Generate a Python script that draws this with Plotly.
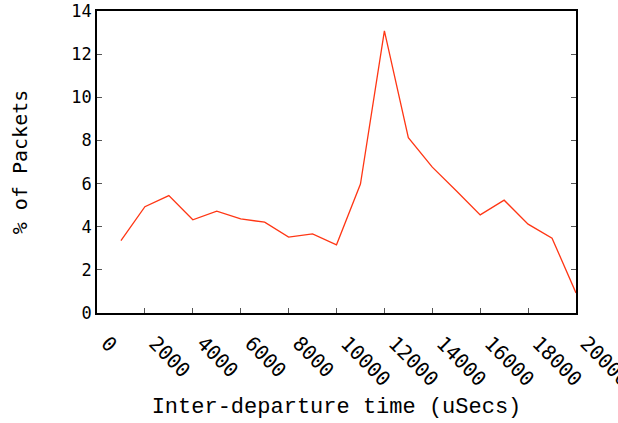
import plotly.graph_objects as go

# Inter-departure time histogram (percentage of packets per 1000 us bin)
bin_us = [1000, 2000, 3000, 4000, 5000, 6000, 7000, 8000, 9000, 10000,
          11000, 12000, 13000, 14000, 15000, 16000, 17000, 18000, 19000, 20000]
pct_packets = [3.36, 4.93, 5.44, 4.32, 4.72, 4.36, 4.21, 3.52, 3.67, 3.16,
               5.98, 13.08, 8.13, 6.76, 5.67, 4.55, 5.23, 4.12, 3.47, 0.93]
x_ticks = [0, 2000, 4000, 6000, 8000, 10000, 12000, 14000, 16000, 18000, 20000]
y_ticks = [0, 2, 4, 6, 8, 10, 12, 14]

fig = go.Figure(go.Scatter(
    x=bin_us, y=pct_packets, mode="lines",
    line=dict(color="#ff3614", width=1.3),
    hoverinfo="skip",
))

fig.update_layout(
    width=618, height=423,
    margin=dict(l=97, r=42, t=11, b=110),
    paper_bgcolor="white", plot_bgcolor="white",
    showlegend=False,
)

fig.update_xaxes(
    range=[0, 20000], tickvals=x_ticks, ticktext=[str(v) for v in x_ticks],
    tickangle=45, ticks="inside", ticklen=5, tickcolor="#555555",
    showline=True, linecolor="black", linewidth=1.5, mirror=True,
    showgrid=False, zeroline=False, automargin=False,
    tickfont=dict(family="DejaVu Sans Mono", size=20, color="black"),
    ticklabelshift=10, ticklabelstandoff=9, ticklabeloverflow="allow",
    title=dict(text="Inter-departure time (uSecs)", standoff=8,
               font=dict(family="Liberation Mono", size=22, color="black")),
)

fig.update_yaxes(
    range=[0, 14], tickvals=y_ticks,
    ticks="inside", ticklen=5, tickcolor="#555555",
    showline=True, linecolor="black", linewidth=1.5, mirror="ticks",
    showgrid=False, zeroline=False, automargin=False,
    tickfont=dict(family="DejaVu Sans Mono", size=17, color="black"),
    title=dict(text="% of Packets", standoff=38,
               font=dict(family="DejaVu Sans Mono", size=20, color="black")),
)

fig.write_html("out.html")
